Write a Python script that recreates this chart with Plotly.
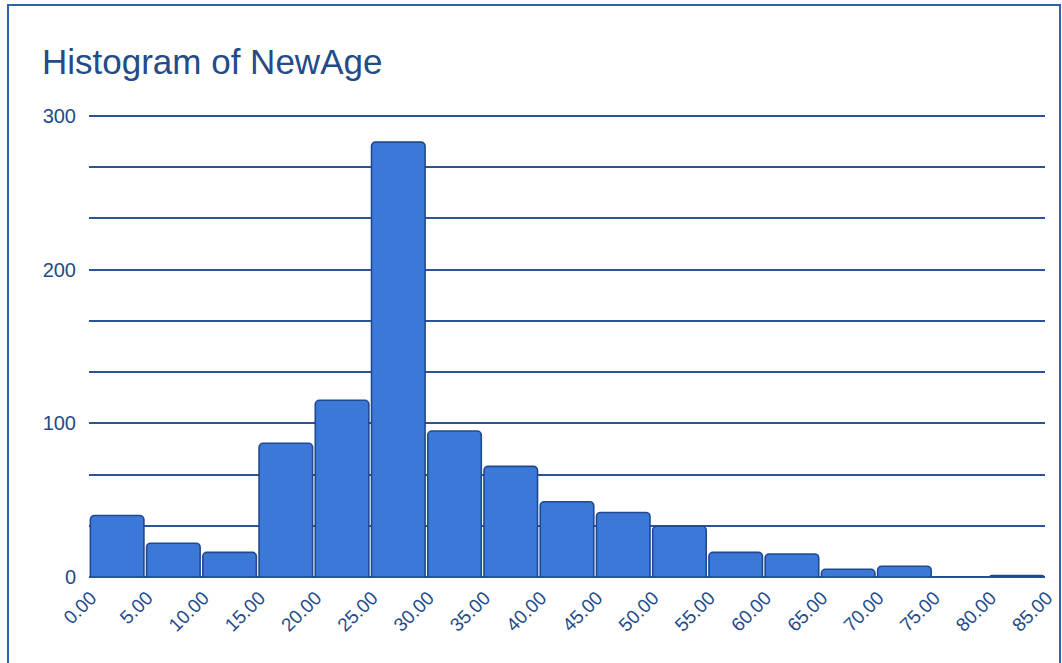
import plotly.graph_objects as go

bin_starts = [0, 5, 10, 15, 20, 25, 30, 35, 40, 45, 50, 55, 60, 65, 70, 75, 80]
counts = [40, 22, 16, 87, 115, 283, 95, 72, 49, 42, 33, 16, 15, 5, 7, 0, 1]
x_ticks = [0, 5, 10, 15, 20, 25, 30, 35, 40, 45, 50, 55, 60, 65, 70, 75, 80, 85]
y_ticks = [0, 100, 200, 300]

TXT = "#234b8a"
GRID = "#2a5496"

fig = go.Figure()
fig.add_trace(go.Bar(
    x=bin_starts, y=counts, offset=0.12, width=4.76,
    marker=dict(color="#3c78d8", line=dict(color="#1f4a8f", width=1.6), cornerradius=4),
    hoverinfo="x+y",
))

fig.update_layout(
    width=1062, height=663,
    margin=dict(l=89, r=17, t=114, b=86, autoexpand=False),
    paper_bgcolor="white", plot_bgcolor="white",
    showlegend=False,
    font=dict(family="Liberation Sans, Arial, sans-serif", color=TXT),
    title=dict(text="Histogram of NewAge", x=42/1062, xanchor="left", y=1-62/663, yanchor="middle",
               font=dict(size=35, color=TXT)),
    xaxis=dict(range=[0, 85], tickvals=x_ticks, ticktext=[f"{v:.2f}" for v in x_ticks],
               tickangle=-45, showgrid=False, zeroline=False, showline=False, automargin=False,
               tickfont=dict(size=19, color=TXT), ticks="", ticklabelstandoff=5, ticklabelshift=2,
               ticklabeloverflow="allow"),
    yaxis=dict(range=[0, 301.3], tickvals=y_ticks, showgrid=True, gridcolor=GRID, gridwidth=1.6,
               zeroline=True, zerolinecolor=GRID, zerolinewidth=1.6, automargin=False,
               minor=dict(tickvals=[100/3, 200/3, 400/3, 500/3, 700/3, 800/3], showgrid=True,
                          gridcolor=GRID, gridwidth=1.6),
               tickfont=dict(size=20, color=TXT), ticks="", ticklabelstandoff=12),
    shapes=[dict(type="rect", xref="paper", yref="paper",
                 x0=(8-89)/956, x1=(1060-89)/956, y0=(577-668)/463, y1=(577-5)/463,
                 line=dict(color="#2f62ad", width=2), fillcolor="rgba(0,0,0,0)", layer="below")],
)

fig.write_html("out.html")
